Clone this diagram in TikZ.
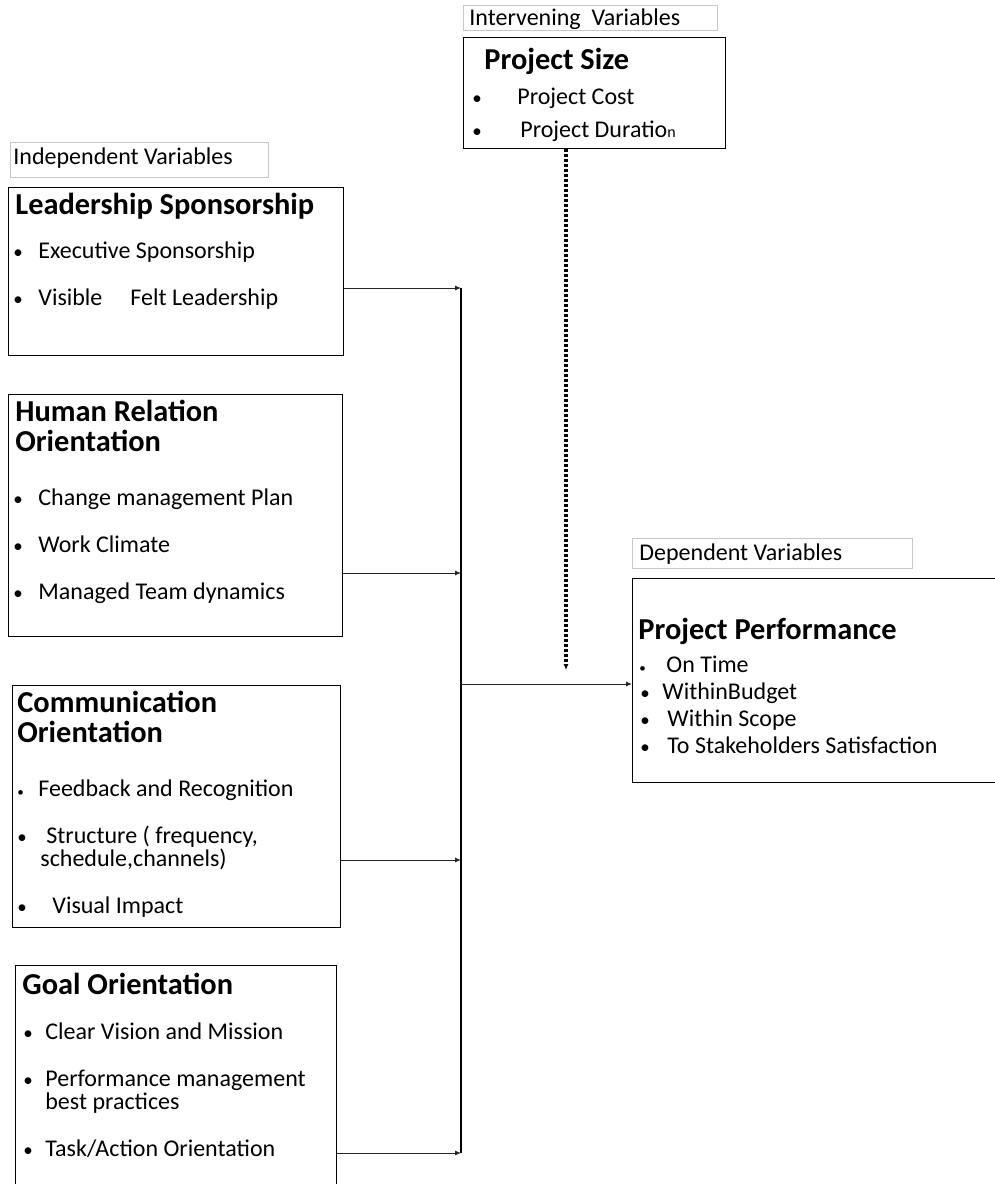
\documentclass[tikz,border=0pt]{standalone}
\usepackage{fontspec}
\setmainfont{Carlito}
\usetikzlibrary{arrows.meta,positioning,calc}
\newcommand{\headfont}{\fontsize{15.2}{18}\selectfont\bfseries}
\newcommand{\itemfont}{\fontsize{12}{14}\selectfont}
\newcommand{\bul}{{\fontsize{9.5}{9.5}\selectfont\textbullet}}
\newcommand{\tinybul}{{\fontsize{6.5}{6.5}\selectfont\textbullet}}

\begin{document}
\begin{tikzpicture}[x=0.5pt,y=-0.5pt,>={Latex[length=3pt,width=2.6pt]},
  box/.style={draw,line width=0.6pt,anchor=north west,inner sep=0pt},
  tag/.style={draw=black!22,line width=0.6pt,anchor=north west,inner sep=0pt},
  txt/.style={anchor=base west,inner sep=0pt,font=\itemfont},
  head/.style={anchor=base west,inner sep=0pt,font=\headfont},
  link/.style={->,line width=0.5pt,black!85},
  dots/.style={->,line width=1.6pt,dash pattern=on 1.3pt off 1.2pt}]
\useasboundingbox (0,0) rectangle (995,1184);
% frames
\node[tag,minimum width=127pt,minimum height=12.5pt] (intlab) at (463,5) {};
\node[box,minimum width=131pt,minimum height=55.5pt] (size) at (463,37) {};
\node[tag,minimum width=129pt,minimum height=17.5pt] (indlab) at (10,142) {};
\node[box,minimum width=167.5pt,minimum height=84pt] (lead) at (8,187) {};
\node[box,minimum width=167pt,minimum height=121pt] (hum) at (8,394) {};
\node[box,minimum width=164pt,minimum height=121pt] (com) at (12,685) {};
\node[box,minimum width=160.5pt,minimum height=130pt] (goal) at (15,965) {};
\node[tag,minimum width=140pt,minimum height=15pt] (deplab) at (632,538) {};
\node[box,minimum width=200pt,minimum height=102pt] (perf) at (632,578) {};
% intervening
\node[txt] (intlab-t) at (469,25) {Intervening~ Variables};
\node[head] (size-t) at (484,69) {Project Size};
\node[txt] (size-b1) at (472,104) {\bul};
\node[txt] (size-1) at (517,104) {Project Cost};
\node[txt] (size-b2) at (472,137) {\bul};
\node[txt] (size-2) at (520,137) {Project Duratio{\fontsize{8}{8}\selectfont n}};
% independent
\node[txt] (indlab-t) at (13,164) {Independent Variables};
\node[head] (lead-t) at (15,214) {Leadership Sponsorship};
\node[txt] (lead-b1) at (13,258) {\bul};
\node[txt] (lead-1) at (38,258) {Executive Sponsorship};
\node[txt] (lead-b2) at (13,305) {\bul};
\node[txt] (lead-2) at (38,305) {Visible\hspace{14pt}Felt Leadership};
\node[head] (hum-t1) at (15,421) {Human Relation};
\node[head] (hum-t2) at (15,451) {Orientation};
\node[txt] (hum-b1) at (13,505) {\bul};
\node[txt] (hum-1) at (38,505) {Change management Plan};
\node[txt] (hum-b2) at (13,552) {\bul};
\node[txt] (hum-2) at (38,552) {Work Climate};
\node[txt] (hum-b3) at (13,599) {\bul};
\node[txt] (hum-3) at (38,599) {Managed Team dynamics};
\node[head] (com-t1) at (17,712) {Communication};
\node[head] (com-t2) at (17,742) {Orientation};
\node[txt] (com-b1) at (17,796) {\tinybul};
\node[txt] (com-1) at (38,796) {Feedback and Recognition};
\node[txt] (com-b2) at (17,843) {\bul};
\node[txt] (com-2) at (46,843) {Structure ( frequency,};
\node[txt] (com-2b) at (40,866) {schedule,channels)};
\node[txt] (com-b3) at (17,913) {\bul};
\node[txt] (com-3) at (52,913) {Visual Impact};
\node[head] (goal-t) at (22,994) {Goal Orientation};
\node[txt] (goal-b1) at (23,1039) {\bul};
\node[txt] (goal-1) at (45,1039) {Clear Vision and Mission};
\node[txt] (goal-b2) at (23,1086) {\bul};
\node[txt] (goal-2) at (45,1086) {Performance management};
\node[txt] (goal-2b) at (45,1109) {best practices};
\node[txt] (goal-b3) at (23,1156) {\bul};
\node[txt] (goal-3) at (45,1156) {Task/Action Orientation};
% dependent
\node[txt] (deplab-t) at (639,560) {Dependent Variables};
\node[head] (perf-t) at (638,639) {Project Performance};
\node[txt] (perf-b1) at (639,672) {\tinybul};
\node[txt] (perf-1) at (666,672) {On Time};
\node[txt] (perf-b2) at (640,699) {\bul};
\node[txt] (perf-2) at (662,699) {WithinBudget};
\node[txt] (perf-b3) at (640,726) {\bul};
\node[txt] (perf-3) at (667,726) {Within Scope};
\node[txt] (perf-b4) at (640,753) {\bul};
\node[txt] (perf-4) at (667,753) {To Stakeholders Satisfaction};
% bus and arrows
\coordinate (j1) at (461,288);
\coordinate (j2) at (461,573);
\coordinate (j3) at (461,860);
\coordinate (j4) at (461,1153);
\coordinate (jout) at (461,684);
\coordinate (tip) at (566,670);
\draw[line width=0.6pt] (j1) -- (j4);
\draw[link] (lead.east |- j1) -- (j1);
\draw[link] (hum.east |- j2) -- (j2);
\draw[link] (com.east |- j3) -- (j3);
\draw[link] (goal.east |- j4) -- (j4);
\draw[link] (jout) -- (perf.west |- jout);
\draw[dots] (tip |- size.south) -- (tip);
\end{tikzpicture}
\end{document}
